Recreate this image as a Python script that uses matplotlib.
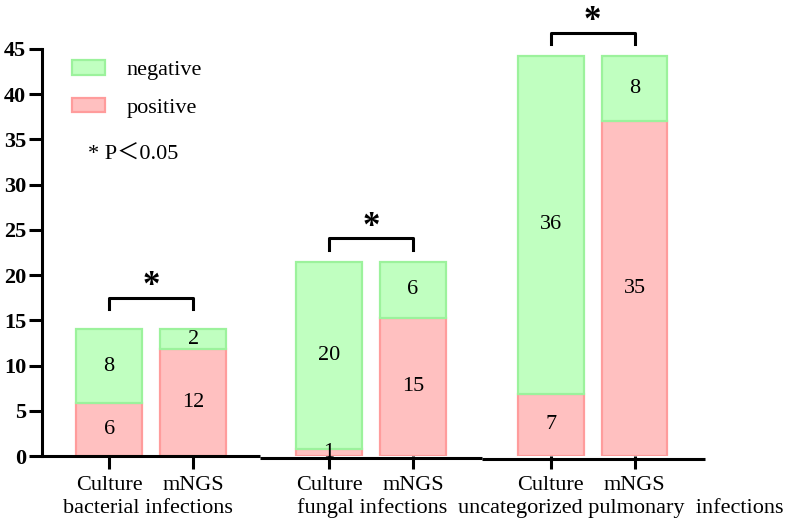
import matplotlib
matplotlib.use('Agg')
import matplotlib.pyplot as plt
import numpy as np

# values (bar heights) and the numbers printed in the bars
methods = ['Culture', 'mNGS']
groups = ['bacterial infections', 'fungal infections', 'uncategorized pulmonary  infections']
pos_height = [5.9, 11.8, 0.8, 15.3, 6.9, 37.0]
neg_height = [8.1, 2.2, 20.7, 6.2, 37.3, 7.2]
pos_text = ['6', '12', '1', '15', '7', '35']
neg_text = ['8', '2', '20', '6', '36', '8']

GREEN = '#c0ffc0'
GREEN_EDGE = '#9cf29c'
PINK = '#ffc0c0'
PINK_EDGE = '#ff9c9c'

plt.rcParams['font.family'] = ['Liberation Serif', 'Noto Sans CJK SC', 'DejaVu Sans']

fig = plt.figure(figsize=(7.87, 5.26), dpi=100)
ax = fig.add_axes([42 / 787, 1 - 456 / 526, (705 - 42) / 787, (456 - 49) / 526])

# bar positions: two bars per group, wider gap between groups
x = np.array([0, 1, 2.62, 3.62, 5.26, 6.26])
width = 0.786
bottom_line = [(-0.80, 1.80, 0.0), (1.80, 4.44, -0.2), (4.44, 7.10, -0.3)]

pos_bars = ax.bar(x, pos_height, width, color=PINK, edgecolor=PINK_EDGE, linewidth=1.6)
neg_bars = ax.bar(x, neg_height, width, bottom=pos_height, color=GREEN,
                  edgecolor=GREEN_EDGE, linewidth=1.6)

for i in range(len(x)):
    ax.text(x[i], pos_height[i] / 2, pos_text[i], ha='center', va='center', fontsize=16)
    ax.text(x[i], pos_height[i] + neg_height[i] / 2, neg_text[i], ha='center', va='center',
            fontsize=16)

# significance brackets over each pair
for g in range(3):
    a, b = x[2 * g], x[2 * g + 1]
    top = max(pos_height[2 * g] + neg_height[2 * g], pos_height[2 * g + 1] + neg_height[2 * g + 1])
    off = 3.5 if g == 0 else 2.6
    y1 = top + off
    ax.plot([a, a, b, b], [y1 - 1.3, y1, y1, y1 - 1.3], color='black', lw=2.2, clip_on=False)
    ax.text((a + b) / 2, y1 + 1.2, '*', ha='center', va='center', fontsize=25,
            fontweight='bold', clip_on=False)

ax.set_xlim(-0.80, 7.10)
ax.set_ylim(0, 45)
ax.set_yticks(range(0, 46, 5))
ax.set_xticks(x)
ax.set_xticklabels(methods * 3, fontsize=16)
for lab in ax.get_yticklabels():
    lab.set_fontweight('bold')
    lab.set_fontsize(16)

for s in ['top', 'right', 'bottom']:
    ax.spines[s].set_visible(False)
ax.spines['left'].set_linewidth(2.2)
ax.tick_params(axis='y', length=9.5, width=2.2, pad=2)
ax.tick_params(axis='x', length=9.5, width=2.2, pad=5)

# broken x axis, one piece per group
for x0, x1, yy in bottom_line:
    ax.plot([x0, x1], [yy, yy], color='black', lw=2.2, clip_on=False, solid_capstyle='butt')

trans = matplotlib.transforms.blended_transform_factory(ax.transData, ax.transAxes)
group_x = [0.46, 3.13, 6.10]
for gx, name in zip(group_x, groups):
    ax.text(gx, -0.128, name, transform=trans, ha='center', va='center', fontsize=16)

ax.legend([neg_bars, pos_bars], ['negative', 'positive'], loc='upper left',
          bbox_to_anchor=(0.045, 0.972), frameon=False, fontsize=16, handlelength=1.5,
          handleheight=0.63, handletextpad=0.95, labelspacing=0.78, borderpad=0,
          borderaxespad=0)
ax.text(0.069, 0.74, '* P\uff1c0.05', transform=ax.transAxes, ha='left', va='center',
        fontsize=16)

plt.savefig('out.png', dpi=100)
plt.close()
